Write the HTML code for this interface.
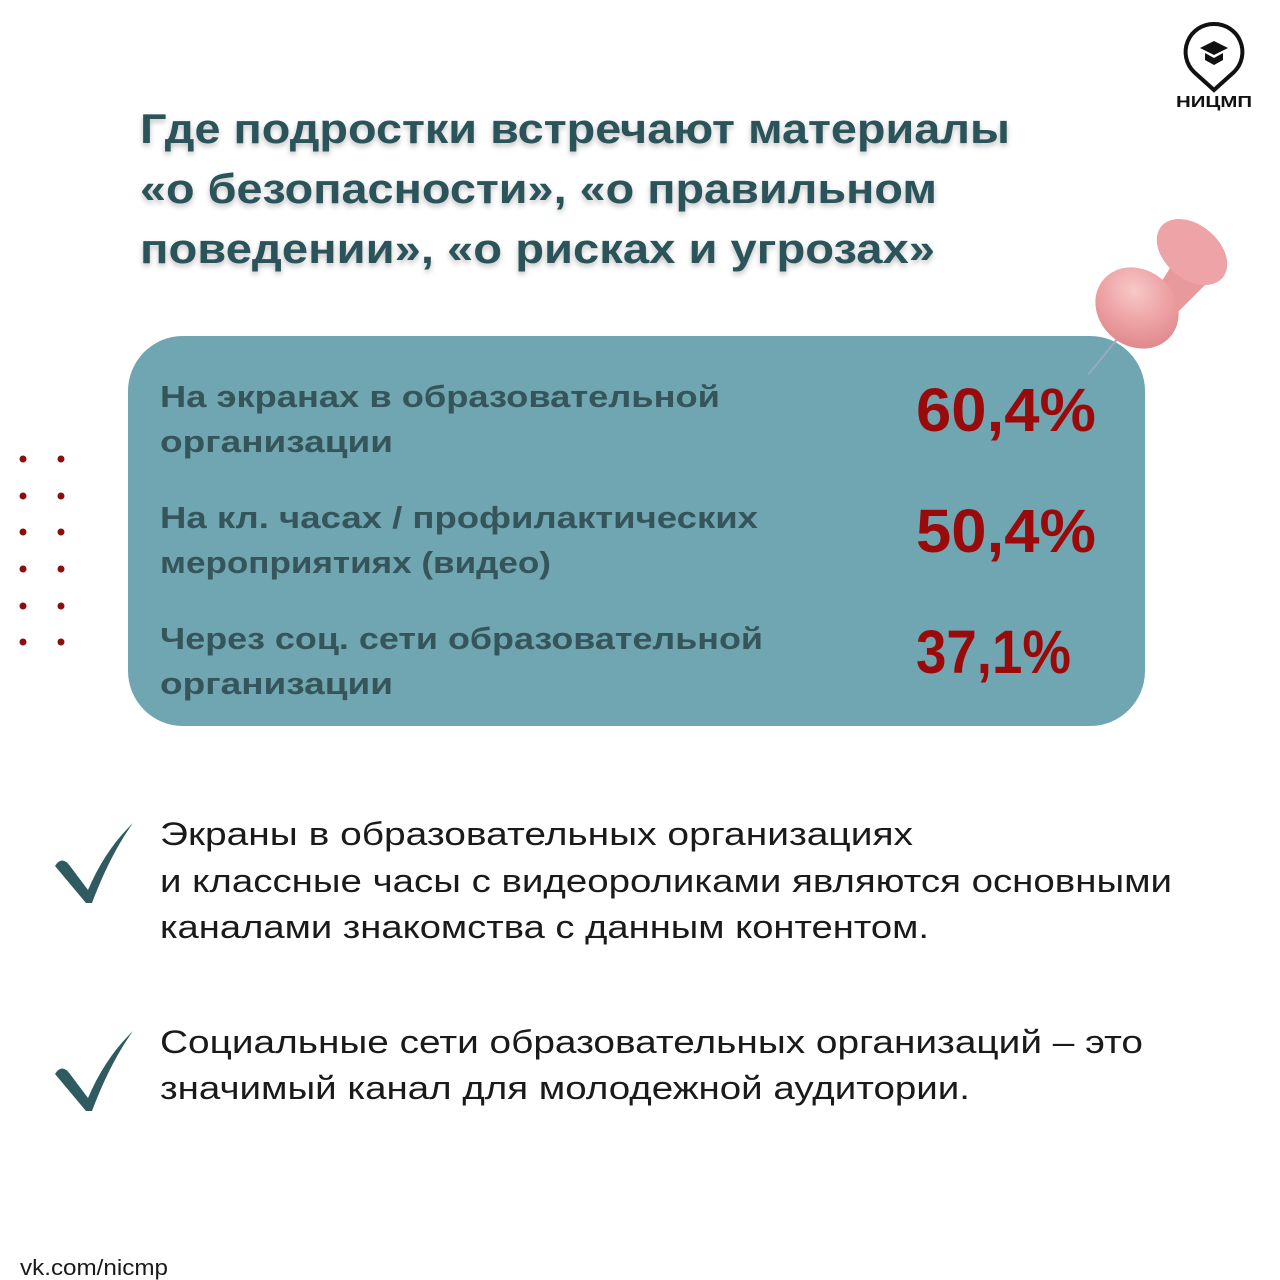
<!DOCTYPE html>
<html><head><meta charset="utf-8"><style>
html,body{margin:0;padding:0;background:#fff;}
svg{display:block}
</style></head><body>
<svg width="1280" height="1280" viewBox="0 0 1280 1280" xmlns="http://www.w3.org/2000/svg" font-family="'Liberation Sans', sans-serif">
<defs>
<filter id="sh" x="-5%" y="-20%" width="110%" height="140%"><feGaussianBlur in="SourceAlpha" stdDeviation="3"/><feOffset dx="0" dy="3"/><feComponentTransfer><feFuncA type="linear" slope="0.25"/></feComponentTransfer><feMerge><feMergeNode/><feMergeNode in="SourceGraphic"/></feMerge></filter>
<radialGradient id="pg" cx="0.35" cy="0.35" r="0.7"><stop offset="0" stop-color="#f8c8c8"/><stop offset="0.6" stop-color="#eda0a2"/><stop offset="1" stop-color="#e08a8c"/></radialGradient>
</defs>
<rect width="1280" height="1280" fill="#fff"/>
<!-- logo -->
<path d="M1214 24 a28 28 0 0 1 20 48 l-20 18 l-20 -18 a28 28 0 0 1 20 -48z" fill="none" stroke="#111" stroke-width="4"/>
<path d="M1200 48 l14 -7 l14 7 l-14 7z M1205 53 l9 5 l9 -5 v7 l-9 5 l-9 -5z" fill="#111"/>
<text x="1214" y="107" font-size="16" font-weight="bold" text-anchor="middle" fill="#111" textLength="76" lengthAdjust="spacingAndGlyphs">НИЦМП</text>
<!-- title -->
<g fill="#2c525a" font-weight="bold" font-size="42" filter="url(#sh)">
<text x="140" y="143" textLength="870" lengthAdjust="spacingAndGlyphs">Где подростки встречают материалы</text>
<text x="140" y="203" textLength="797" lengthAdjust="spacingAndGlyphs">«о безопасности», «о правильном</text>
<text x="140" y="263" textLength="795" lengthAdjust="spacingAndGlyphs">поведении», «о рисках и угрозах»</text>
</g>
<!-- panel -->
<rect x="128" y="336" width="1017" height="390" rx="55" fill="#70a6b1"/>
<g fill="#35555b" font-weight="bold" font-size="31">
<text x="160" y="407" textLength="560" lengthAdjust="spacingAndGlyphs">На экранах в образовательной</text>
<text x="160" y="452" textLength="233" lengthAdjust="spacingAndGlyphs">организации</text>
<text x="160" y="528" textLength="598" lengthAdjust="spacingAndGlyphs">На кл. часах / профилактических</text>
<text x="160" y="573" textLength="391" lengthAdjust="spacingAndGlyphs">мероприятиях (видео)</text>
<text x="160" y="649" textLength="603" lengthAdjust="spacingAndGlyphs">Через соц. сети образовательной</text>
<text x="160" y="694" textLength="233" lengthAdjust="spacingAndGlyphs">организации</text>
</g>
<g fill="#9b0a0a" font-weight="bold" font-size="61">
<text x="916" y="431" textLength="180" lengthAdjust="spacingAndGlyphs">60,4%</text>
<text x="916" y="552" textLength="180" lengthAdjust="spacingAndGlyphs">50,4%</text>
<text x="916" y="673" textLength="155" lengthAdjust="spacingAndGlyphs">37,1%</text>
</g>
<!-- pin -->
<line x1="1088" y1="375" x2="1118" y2="338" stroke="#9ab" stroke-width="2"/>
<path d="M1150 300 L1175 260 L1205 285 L1170 320 Z" fill="#e8999b"/>
<ellipse cx="1192" cy="252" rx="40" ry="27" transform="rotate(40 1192 252)" fill="#eea4a6"/>
<ellipse cx="1137" cy="308" rx="44" ry="38" transform="rotate(40 1137 308)" fill="url(#pg)"/>
<!-- dots -->
<g fill="#8b0d0d">
<circle cx="23" cy="459" r="3.5"/><circle cx="61" cy="459" r="3.5"/>
<circle cx="23" cy="496" r="3.5"/><circle cx="61" cy="496" r="3.5"/>
<circle cx="23" cy="532" r="3.5"/><circle cx="61" cy="532" r="3.5"/>
<circle cx="23" cy="569" r="3.5"/><circle cx="61" cy="569" r="3.5"/>
<circle cx="23" cy="606" r="3.5"/><circle cx="61" cy="606" r="3.5"/>
<circle cx="23" cy="642" r="3.5"/><circle cx="61" cy="642" r="3.5"/>
</g>
<!-- checks -->
<path d="M55 866 Q62 855 70 866 L88 890 Q105 850 133 823 Q110 855 92 903 L86 903 Z" fill="#2f5a60"/>
<path d="M55 1074 Q62 1063 70 1074 L88 1098 Q105 1058 133 1031 Q110 1063 92 1111 L86 1111 Z" fill="#2f5a60"/>
<g fill="#1a1a1a" font-size="32">
<text x="160" y="845" textLength="753" lengthAdjust="spacingAndGlyphs">Экраны в образовательных организациях</text>
<text x="160" y="892" textLength="1012" lengthAdjust="spacingAndGlyphs">и классные часы с видеороликами являются основными</text>
<text x="160" y="938" textLength="769" lengthAdjust="spacingAndGlyphs">каналами знакомства с данным контентом.</text>
<text x="160" y="1053" textLength="983" lengthAdjust="spacingAndGlyphs">Социальные сети образовательных организаций – это</text>
<text x="160" y="1099" textLength="810" lengthAdjust="spacingAndGlyphs">значимый канал для молодежной аудитории.</text>
</g>
<text x="20" y="1275" font-size="22" fill="#1a1a1a" textLength="148" lengthAdjust="spacingAndGlyphs">vk.com/nicmp</text>
</svg>
</body></html>
